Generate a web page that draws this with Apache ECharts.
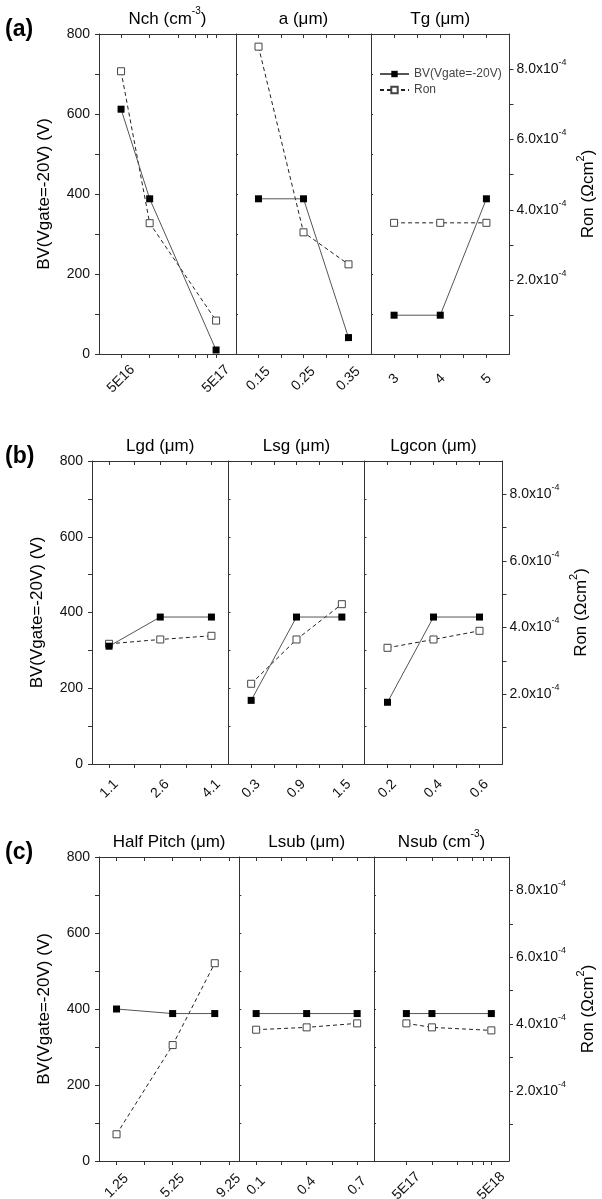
<!DOCTYPE html>
<html><head><meta charset="utf-8">
<script src="https://cdn.jsdelivr.net/npm/echarts@6/dist/echarts.min.js"></script>
<style>html,body{margin:0;padding:0;background:#fff}#c{width:602px;height:1199px}</style>
</head><body><div id="c"></div>
<script>
// ---------- data ----------
const nchX = [5e16, 1e17, 5e17];
const nchBV = [612, 388, 10];
const nchRon = [7.94e-4, 3.62e-4, 0.85e-4];
const aX = [0.15, 0.25, 0.35];
const aBV = [388, 388, 41];
const aRon = [8.64e-4, 3.36e-4, 2.45e-4];
const tgX = [3, 4, 5];
const tgBV = [97, 97, 388];
const tgRon = [3.63e-4, 3.63e-4, 3.63e-4];
const lgdX = [1.1, 2.6, 4.1];
const lgdBV = [311, 388, 388];
const lgdRon = [3.51e-4, 3.64e-4, 3.75e-4];
const lsgX = [0.3, 0.9, 1.5];
const lsgBV = [168, 388, 388];
const lsgRon = [2.31e-4, 3.64e-4, 4.70e-4];
const lgconX = [0.2, 0.4, 0.6];
const lgconBV = [163, 388, 388];
const lgconRon = [3.39e-4, 3.64e-4, 3.90e-4];
const hpX = [1.25, 5.25, 8.25];
const hpBV = [400, 388, 388];
const hpRon = [0.70e-4, 3.37e-4, 5.82e-4];
const lsubX = [0.1, 0.4, 0.7];
const lsubBV = [388, 388, 388];
const lsubRon = [3.83e-4, 3.90e-4, 4.02e-4];
const nsubX = [5e17, 1e18, 5e18];
const nsubBV = [388, 388, 388];
const nsubRon = [4.02e-4, 3.90e-4, 3.81e-4];

// ---------- ticks / labels ----------
const bvTicks = [0, 200, 400, 600, 800];
const ronTicks = [2e-4, 4e-4, 6e-4, 8e-4];
const ronMinorTicks = [1e-4, 2e-4, 3e-4, 4e-4, 5e-4, 6e-4, 7e-4, 8e-4];
const nchTicks = [5e16, 1e17, 2e17, 3e17, 4e17, 5e17];
const nchLabels = ['5E16', '5E17'];
const nchLabelVals = [5e16, 5e17];
const aTicks = [0.15, 0.2, 0.25, 0.3, 0.35];
const aLabels = ['0.15', '0.25', '0.35'];
const tgTicks = [3, 3.5, 4, 4.5, 5];
const tgLabels = ['3', '4', '5'];
const lgdTicks = [1.1, 1.85, 2.6, 3.35, 4.1];
const lgdLabels = ['1.1', '2.6', '4.1'];
const lsgTicks = [0.3, 0.6, 0.9, 1.2, 1.5];
const lsgLabels = ['0.3', '0.9', '1.5'];
const lgconTicks = [0.2, 0.3, 0.4, 0.5, 0.6];
const lgconLabels = ['0.2', '0.4', '0.6'];
const hpTicks = [1.25, 3.25, 5.25, 7.25, 9.25];
const hpLabels = ['1.25', '5.25', '9.25'];
const lsubTicks = [0.1, 0.25, 0.4, 0.55, 0.7];
const lsubLabels = ['0.1', '0.4', '0.7'];
const nsubTicks = [5e17, 1e18, 2e18, 3e18, 4e18, 5e18];
const nsubLabels = ['5E17', '5E18'];
const nsubLabelVals = [5e17, 5e18];

// ---------- layout ----------
const FONT = 'Liberation Sans, Arial, sans-serif';
const RON_MIN = -0.1e-4, RON_MAX = 9.0e-4;
const layout = [
  {label: '(a)', top: 34, height: 320, cols: [[99, 137], [236, 135], [371, 138.5]]},
  {label: '(b)', top: 461, height: 303, cols: [[92, 136.5], [228.5, 136], [364.5, 138]]},
  {label: '(c)', top: 857, height: 304, cols: [[99, 140.3], [239.3, 134.7], [374, 135]]}
];
const subs = [
  [
    {title: 'Nch (cm{sup|-3})', x: nchX, bv: nchBV, ron: nchRon, log: true, range: [2.93e16, 8.1e17], ticks: nchTicks, labelVals: nchLabelVals, labels: nchLabels},
    {title: 'a (μm)', x: aX, bv: aBV, ron: aRon, range: [0.1, 0.4], ticks: aTicks, labels: aLabels},
    {title: 'Tg (μm)', x: tgX, bv: tgBV, ron: tgRon, range: [2.5, 5.5], ticks: tgTicks, labels: tgLabels}
  ],
  [
    {title: 'Lgd (μm)', x: lgdX, bv: lgdBV, ron: lgdRon, range: [0.6, 4.6], ticks: lgdTicks, labels: lgdLabels},
    {title: 'Lsg (μm)', x: lsgX, bv: lsgBV, ron: lsgRon, range: [0, 1.8], ticks: lsgTicks, labels: lsgLabels},
    {title: 'Lgcon (μm)', x: lgconX, bv: lgconBV, ron: lgconRon, range: [0.1, 0.7], ticks: lgconTicks, labels: lgconLabels}
  ],
  [
    {title: 'Half Pitch (μm)', x: hpX, bv: hpBV, ron: hpRon, range: [0, 10], ticks: hpTicks, labels: hpLabels},
    {title: 'Lsub (μm)', x: lsubX, bv: lsubBV, ron: lsubRon, range: [0, 0.8], ticks: lsubTicks, labels: lsubLabels},
    {title: 'Nsub (cm{sup|-3})', x: nsubX, bv: nsubBV, ron: nsubRon, log: true, range: [2.08e17, 8.07e18], ticks: nsubTicks, labelVals: nsubLabelVals, labels: nsubLabels}
  ]
];

const grids = [], xAxes = [], yAxes = [], series = [], titles = [];
const axisColor = '#333';
layout.forEach((P, pi) => {
  titles.push({text: P.label, left: 5, top: P.top - 16, padding: 0,
    textStyle: {fontSize: 23, fontWeight: 'bold', fontFamily: FONT, color: '#000'}});
  P.cols.forEach((C, ci) => {
    const S = subs[pi][ci];
    const g = grids.length;
    grids.push({left: C[0], top: P.top, width: C[1], height: P.height, containLabel: false, outerBoundsMode: 'none'});
    const tf = S.log ? (v => Math.log10(v)) : (v => v);
    const xr = S.range.map(tf);
    const tickVals = S.ticks.map(tf);
    const labVals = (S.labelVals || S.labels.map(Number)).map(tf);
    const fmt = v => { const i = labVals.findIndex(t => Math.abs(t - v) < 1e-7); return i >= 0 ? S.labels[i] : ''; };
    xAxes.push({type: 'value', gridIndex: g, position: 'bottom', min: xr[0], max: xr[1], splitLine: {show: false},
      axisLine: {show: true, onZero: false, lineStyle: {color: axisColor, width: 1}},
      axisTick: {show: true, customValues: tickVals, length: 4, lineStyle: {color: axisColor}},
      axisLabel: {show: true, customValues: labVals, formatter: fmt, rotate: 45, align: 'center', verticalAlign: 'middle',
        margin: 25, fontSize: 14, fontFamily: FONT, color: '#111'}});
    xAxes.push({type: 'value', gridIndex: g, position: 'top', min: xr[0], max: xr[1], splitLine: {show: false},
      axisLine: {show: true, onZero: false, lineStyle: {color: axisColor, width: 1}},
      axisTick: {show: true, inside: true, customValues: tickVals, length: 4, lineStyle: {color: axisColor}},
      axisLabel: {show: false},
      name: S.title, nameLocation: 'middle', nameGap: 2,
      nameTextStyle: {fontSize: 17, color: '#000', fontFamily: FONT, lineHeight: 26,
        rich: {sup: {fontSize: 10, verticalAlign: 'top', lineHeight: 12, color: '#000', fontFamily: FONT}}}});
    yAxes.push({type: 'value', gridIndex: g, position: 'left', min: 0, max: 800, interval: 100, splitLine: {show: false},
      axisLine: {show: true, onZero: false, lineStyle: {color: axisColor, width: 1}},
      axisTick: {show: true, length: ci === 0 ? 4 : 2, inside: ci !== 0, lineStyle: {color: axisColor}},
      axisLabel: {show: ci === 0, customValues: bvTicks, margin: 9, fontSize: 14, fontFamily: FONT, color: '#111'},
      name: ci === 0 ? 'BV(Vgate=-20V) (V)' : '', nameLocation: 'middle', nameGap: 46, nameRotate: 90,
      nameTextStyle: {fontSize: 17, color: '#000', fontFamily: FONT}});
    yAxes.push({type: 'value', gridIndex: g, position: 'right', min: RON_MIN, max: RON_MAX, show: ci === 2, splitLine: {show: false},
      axisLine: {show: true, onZero: false, lineStyle: {color: axisColor, width: 1}},
      axisTick: {show: true, customValues: ronMinorTicks, length: 4, lineStyle: {color: axisColor}},
      axisLabel: {customValues: ronTicks, margin: 7, color: '#111',
        formatter: v => '{m|' + (v * 1e4).toFixed(1) + 'x10}{sup|-4}',
        rich: {m: {fontSize: 14, fontFamily: FONT, color: '#111', lineHeight: 22}, sup: {fontSize: 9, verticalAlign: 'top', lineHeight: 11, fontFamily: FONT, color: '#111'}}},
      name: 'Ron (Ωcm{sup|2})', nameLocation: 'middle', nameGap: 66, nameRotate: 90,
      nameTextStyle: {fontSize: 17, color: '#000', fontFamily: FONT, lineHeight: 26,
        rich: {sup: {fontSize: 11, verticalAlign: 'top', lineHeight: 12, color: '#000', fontFamily: FONT}}}});
    series.push({name: 'BV(Vgate=-20V)', type: 'line', xAxisIndex: 2 * g, yAxisIndex: 2 * g,
      data: S.x.map((x, i) => [tf(x), S.bv[i]]), symbol: 'rect', symbolSize: 7, clip: false,
      itemStyle: {color: '#000'}, lineStyle: {color: '#555', width: 1}, z: 3, emphasis: {disabled: true}});
    series.push({name: 'Ron', type: 'line', xAxisIndex: 2 * g, yAxisIndex: 2 * g + 1,
      data: S.x.map((x, i) => [tf(x), S.ron[i]]), symbol: 'rect', symbolSize: 7, clip: false,
      itemStyle: {color: '#fff', borderColor: '#444', borderWidth: 1}, lineStyle: {color: '#222', width: 1, type: [4, 3]}, z: 2, emphasis: {disabled: true}});
  });
});

const chart = echarts.init(document.getElementById('c'), null, {renderer: 'canvas'});
chart.setOption({
  animation: false,
  backgroundColor: '#fff',
  title: titles,
  legend: {data: ['BV(Vgate=-20V)', 'Ron'], orient: 'vertical', left: 374, top: 63, itemWidth: 29, itemHeight: 8, itemGap: 4,
    selectedMode: false, textStyle: {fontSize: 12, color: '#444', fontFamily: FONT}},
  grid: grids,
  xAxis: xAxes,
  yAxis: yAxes,
  series: series
});
</script></body></html>
